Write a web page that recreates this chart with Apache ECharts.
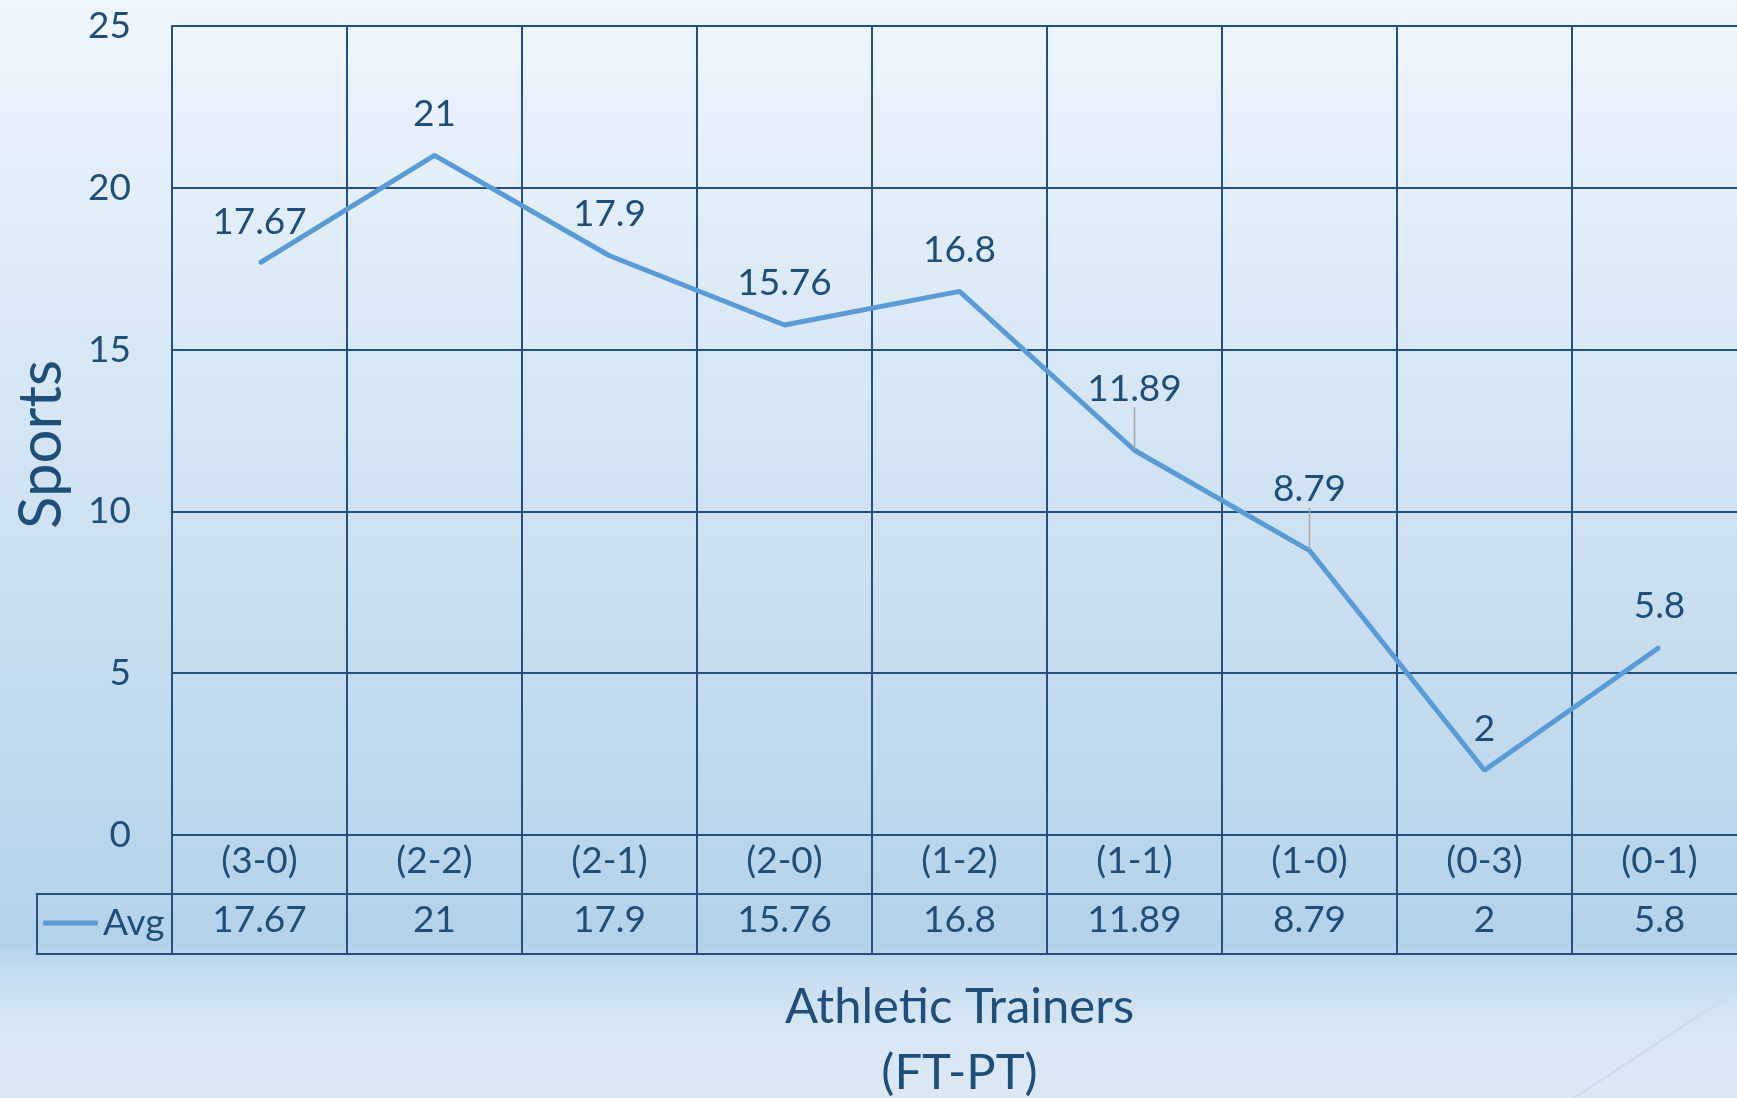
<!DOCTYPE html>
<html>
<head>
<meta charset="utf-8">
<title>Sports per Athletic Trainers</title>
<script src="https://cdn.jsdelivr.net/npm/echarts@6/dist/echarts.min.js"></script>
<style>
  html, body { margin: 0; padding: 0; }
  #main { width: 1737px; height: 1098px; }
</style>
</head>
<body>
<div id="main"></div>
<script>
// categories = athletic trainers (FT-PT), values = average number of sports
var categories = ['(3-0)', '(2-2)', '(2-1)', '(2-0)', '(1-2)', '(1-1)', '(1-0)', '(0-3)', '(0-1)']
var avg = [17.67, 21, 17.9, 15.76, 16.8, 11.89, 8.79, 2, 5.8]
var yTicks = [0, 5, 10, 15, 20, 25]
// points whose label is pushed up with a small leader line
var raisedLabels = [5, 6]

var textColor = '#1f4e79'
var gridColor = '#24507d'
var lineColor = '#5b9bd5'
var font = 'Lato'

var myChart = echarts.init(document.getElementById('main'))

var seriesData = avg.map(function (v, i) {
  var raised = raisedLabels.indexOf(i) >= 0
  return { value: v, labelLine: { show: raised } }
})

var option = {
  backgroundColor: {
    type: 'linear', x: 0, y: 0, x2: 0, y2: 1,
    colorStops: [
      { offset: 0, color: '#eff5fc' },
      { offset: 0.86, color: '#b4d2ea' },
      { offset: 0.885, color: '#c5dcf0' },
      { offset: 0.94, color: '#d8e7f4' },
      { offset: 1, color: '#dce9f5' }
    ]
  },
  textStyle: { fontFamily: font, color: textColor },
  animation: false,
  grid: { left: 172, top: 26, width: 1575, height: 809, outerBoundsMode: 'none', containLabel: false },
  legend: {
    data: [{ name: 'Avg', icon: 'roundRect' }],
    left: 43,
    top: 901,
    padding: 0,
    itemWidth: 55,
    itemHeight: 5,
    textStyle: { fontFamily: font, fontSize: 37, color: textColor, lineHeight: 44 }
  },
  xAxis: [
    {
      type: 'category',
      data: categories,
      boundaryGap: true,
      axisLine: { lineStyle: { color: gridColor, width: 2 } },
      axisTick: { show: true, interval: 0, length: 119, lineStyle: { color: gridColor, width: 2 } },
      axisLabel: { interval: 0, margin: 8, fontSize: 37, color: textColor, fontFamily: font },
      splitLine: { show: true, interval: 0, lineStyle: { color: gridColor, width: 2 } }
    },
    {
      type: 'category',
      data: avg.map(function (v) { return String(v) }),
      position: 'bottom',
      offset: 59,
      axisLine: { lineStyle: { color: gridColor, width: 2 } },
      axisTick: { show: false },
      axisLabel: { interval: 0, margin: 8, fontSize: 37, color: textColor, fontFamily: font },
      splitLine: { show: false }
    },
    {
      type: 'category',
      data: categories,
      position: 'bottom',
      offset: 119,
      axisLine: { lineStyle: { color: gridColor, width: 2 } },
      axisTick: { show: false },
      axisLabel: { show: false },
      splitLine: { show: false },
      name: 'Athletic Trainers\n(FT-PT)',
      nameLocation: 'middle',
      nameGap: 20,
      nameTextStyle: { fontFamily: font, fontSize: 49, color: textColor, lineHeight: 66 }
    }
  ],
  yAxis: {
    type: 'value',
    min: yTicks[0],
    max: yTicks[yTicks.length - 1],
    interval: yTicks[1] - yTicks[0],
    axisLine: { show: true, lineStyle: { color: gridColor, width: 2 } },
    axisTick: { show: false },
    axisLabel: { margin: 41, fontSize: 37, color: textColor, fontFamily: font },
    splitLine: { show: true, lineStyle: { color: gridColor, width: 2 } },
    name: 'Sports',
    nameLocation: 'middle',
    nameRotate: 90,
    nameGap: 100,
    nameTextStyle: { fontFamily: font, fontSize: 60, color: textColor, padding: [0, 28, 0, 0] }
  },
  series: [
    {
      name: 'Avg',
      type: 'line',
      data: seriesData,
      symbol: 'circle',
      symbolSize: 2,
      itemStyle: { color: lineColor },
      lineStyle: { color: lineColor, width: 5 },
      label: {
        show: true,
        position: 'top',
        distance: 22,
        fontSize: 37,
        fontFamily: font,
        color: textColor
      },
      labelLayout: function (params) {
        if (raisedLabels.indexOf(params.dataIndex) >= 0) {
          return { dy: -20 }
        }
      },
      labelLine: { show: false, lineStyle: { color: '#a6a6a6', width: 1.5 } }
    }
  ],
  graphic: [
    {
      type: 'rect',
      shape: { x: 37, y: 894, width: 135, height: 60 },
      style: { fill: null, stroke: gridColor, lineWidth: 2 }
    },
    {
      type: 'line',
      shape: { x1: 1574, y1: 1098, x2: 1737, y2: 990 },
      style: { stroke: '#cddbe9', lineWidth: 2 }
    }
  ]
}

myChart.setOption(option)
</script>
</body>
</html>
